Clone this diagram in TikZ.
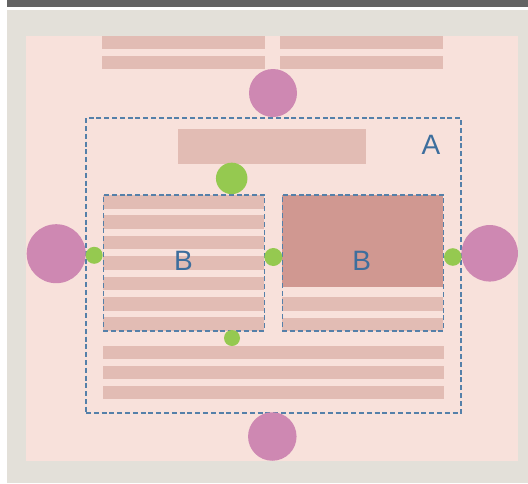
\documentclass[tikz,border=0pt]{standalone}
\usepackage{fontspec}
\setmainfont{Liberation Sans}
\definecolor{barcol}{HTML}{636363}
\definecolor{greybg}{HTML}{E3E0D9}
\definecolor{pinkbg}{HTML}{F8E1DB}
\definecolor{stripecol}{HTML}{E2BCB4}
\definecolor{darkfill}{HTML}{D09891}
\definecolor{hubpink}{HTML}{CE88B2}
\definecolor{portgreen}{HTML}{95C950}
\definecolor{dashblue}{HTML}{5580A9}
\definecolor{labelblue}{HTML}{3D6E9D}
\begin{document}
\begin{tikzpicture}[x=1pt,y=-1pt,
  stripe/.style={fill=stripecol,draw=none},
  hub/.style={circle,fill=hubpink,draw=none,inner sep=0pt},
  port/.style={circle,fill=portgreen,draw=none,inner sep=0pt},
  group/.style={draw=dashblue,line width=1.5pt,dash pattern=on 5pt off 2.8pt,
    fill=none,inner sep=0pt,outer sep=0pt,anchor=north west},
  lbl/.style={text=labelblue,inner sep=0pt,font=\fontsize{28}{28}\selectfont}]
\useasboundingbox (0,0) rectangle (528,483);
% page background, header bar and panels
\fill[white] (0,0) rectangle (528,483);
\fill[barcol] (7,0) rectangle (528,7);
\fill[greybg] (7,10) rectangle (528,483);
\fill[pinkbg] (26,36) rectangle (518,461);

% upper stripes
\fill[stripe] (102,36) rectangle (265,49);
\fill[stripe] (280,36) rectangle (443,49);
\fill[stripe] (102,56) rectangle (265,69);
\fill[stripe] (280,56) rectangle (443,69);

% header block inside A
\fill[stripe] (178,129) rectangle (366,164);

% left B contents
\foreach \t in {195,215.4,235.8,256.2,276.6,297,317.4}
  \fill[stripe] (103.3,\t) rectangle (264.3,\t+13.5);

% right B contents
\fill[darkfill] (282.3,195) rectangle (443.3,287);
\fill[stripe] (282.3,297) rectangle (443.3,311);
\fill[stripe] (282.3,317.5) rectangle (443.3,331);

% lower stripes
\fill[stripe] (103,346) rectangle (444,359);
\fill[stripe] (103,366) rectangle (444,379);
\fill[stripe] (103,386) rectangle (444,399);

% dashed groups
\node[group,minimum width=375pt,minimum height=295pt] (groupA) at (86,118) {};
\node[group,minimum width=161pt,minimum height=136pt] (groupBl) at (103.3,195) {};
\node[group,minimum width=161pt,minimum height=136pt] (groupBr) at (282.3,195) {};

% labels
\node[lbl] (labelA) at (431,145) {A};
\node[lbl] (labelBl) at (183.5,260.5) {B};
\node[lbl] (labelBr) at (361.7,260.5) {B};

% hubs around A
\node[hub,minimum size=48pt] (hubtop) at (273,93) {};
\node[hub,minimum size=48.5pt] (hubbottom) at (272.3,436.5) {};
\node[hub,minimum size=59pt] (hubleft) at (56.2,253.7) {};
\node[hub,minimum size=56.5pt] (hubright) at (489.7,253.3) {};

% ports
\node[port,minimum size=31.5pt] (porttop) at (231.7,178.4) {};
\node[port,minimum size=17pt] (portleft) at (94.2,255.3) {};
\node[port,minimum size=18pt] (portmid) at (273.3,257) {};
\node[port,minimum size=17.6pt] (portright) at (452.8,257) {};
\node[port,minimum size=16pt] (portbottom) at (232,338) {};
\end{tikzpicture}
\end{document}
